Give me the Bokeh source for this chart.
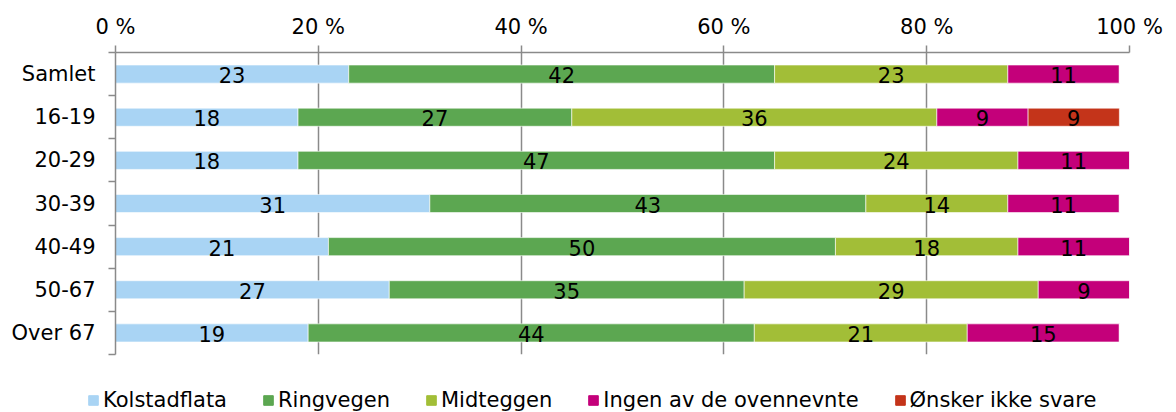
from bokeh.plotting import figure
from bokeh.layouts import column
from bokeh.models import (ColumnDataSource, Range1d, FixedTicker, Legend, LegendItem,
                          CustomJSTickFormatter)
from bokeh.core.properties import value
from bokeh.embed import file_html
from bokeh.resources import INLINE

categories = ["Samlet", "16-19", "20-29", "30-39", "40-49", "50-67", "Over 67"]
series = ["Kolstadflata", "Ringvegen", "Midteggen", "Ingen av de ovennevnte", "Ønsker ikke svare"]
colors = ["#A9D4F4", "#5CA751", "#A2BE37", "#C4007A", "#C4341A"]
kolstadflata = [23, 18, 18, 31, 21, 27, 19]
ringvegen = [42, 27, 47, 43, 50, 35, 44]
midteggen = [23, 36, 24, 14, 18, 29, 21]
ingen = [11, 9, 11, 11, 11, 9, 15]
onsker = [0, 9, 0, 0, 0, 0, 0]
x_ticks = [0, 20, 40, 60, 80, 100]

FONT = "DejaVu Sans"
GRAY = "#8A8A8A"

n = len(categories)
# row centres, first category at the top
ypos = [n - i - 0.5 for i in range(n)]
data = {"y": ypos}
for name, vals in zip(series, [kolstadflata, ringvegen, midteggen, ingen, onsker]):
    data[name] = vals
source = ColumnDataSource(data)

p = figure(width=1176, height=362, output_backend="svg", toolbar_location=None,
           x_range=Range1d(0, 100), y_range=Range1d(0, n),
           x_axis_location="above",
           min_border_left=115, min_border_right=47, min_border_top=52, min_border_bottom=8)
p.outline_line_color = None
p.background_fill_color = "white"
p.border_fill_color = "white"

p.hbar_stack(series, y="y", height=0.42, color=colors, source=source,
             line_color="white", line_alpha=0.6, line_width=1)

# value labels
lx, ly, lt = [], [], []
for i in range(n):
    left = 0
    for name in series:
        v = data[name][i]
        if v > 0:
            lx.append(left + v / 2)
            ly.append(ypos[i])
            lt.append(str(v))
        left += v
p.text(x=lx, y=ly, text=lt, text_align="center", text_baseline="middle",
       text_font=value(FONT), text_font_size="21px", text_color="black", y_offset=1)

# top axis
xa = p.xaxis[0]
xa.ticker = FixedTicker(ticks=x_ticks)
xa.formatter = CustomJSTickFormatter(code="return tick + ' %';")
xa.major_tick_out = 7
xa.major_tick_in = 0
xa.minor_tick_out = 0
xa.minor_tick_in = 0
xa.axis_line_color = GRAY
xa.axis_line_width = 1.5
xa.major_tick_line_color = GRAY
xa.major_tick_line_width = 1.5
xa.major_label_text_font = FONT
xa.major_label_text_font_size = "21px"
xa.major_label_text_color = "black"
xa.major_label_standoff = 7

# left axis: labels at centres, ticks at boundaries
ya = p.yaxis[0]
ya.ticker = FixedTicker(ticks=ypos, minor_ticks=list(range(n + 1)))
ya.major_label_overrides = {y: c for y, c in zip(ypos, categories)}
ya.major_tick_out = 0
ya.major_tick_in = 0
ya.minor_tick_out = 7
ya.minor_tick_in = 0
ya.minor_tick_line_color = GRAY
ya.minor_tick_line_width = 1.5
ya.axis_line_color = GRAY
ya.axis_line_width = 1.5
ya.major_label_text_font = FONT
ya.major_label_text_font_size = "21px"
ya.major_label_text_color = "black"
ya.major_label_standoff = 13

p.ygrid.grid_line_color = None
p.xgrid.ticker = FixedTicker(ticks=x_ticks[1:])
p.xgrid.grid_line_color = GRAY
p.xgrid.grid_line_width = 1.5

# legend strip below the chart (same data, drawn out of view; only the legend shows)
pl = figure(width=1176, height=50, output_backend="svg", toolbar_location=None,
            x_range=Range1d(0, 100), y_range=Range1d(100, 101),
            x_axis_type=None, y_axis_type=None, frame_align=False,
            min_border_left=0, min_border_right=0, min_border_top=0, min_border_bottom=0)
pl.outline_line_color = None
pl.xgrid.visible = False
pl.ygrid.visible = False
proxies = pl.hbar_stack(series, y="y", height=0.42, color=colors, source=source)
legend = Legend(items=[LegendItem(label=s, renderers=[r]) for s, r in zip(series, proxies)],
                orientation="horizontal", location=(87, 0),
                glyph_width=12, glyph_height=12, label_standoff=4, spacing=35,
                padding=0, margin=0, border_line_color=None, background_fill_alpha=0,
                label_text_font=FONT, label_text_font_size="21px", label_text_color="black",
                label_height=22)
pl.add_layout(legend, "center")

layout = column(p, pl, spacing=0)
open("out.html", "w").write(file_html(layout, INLINE))
